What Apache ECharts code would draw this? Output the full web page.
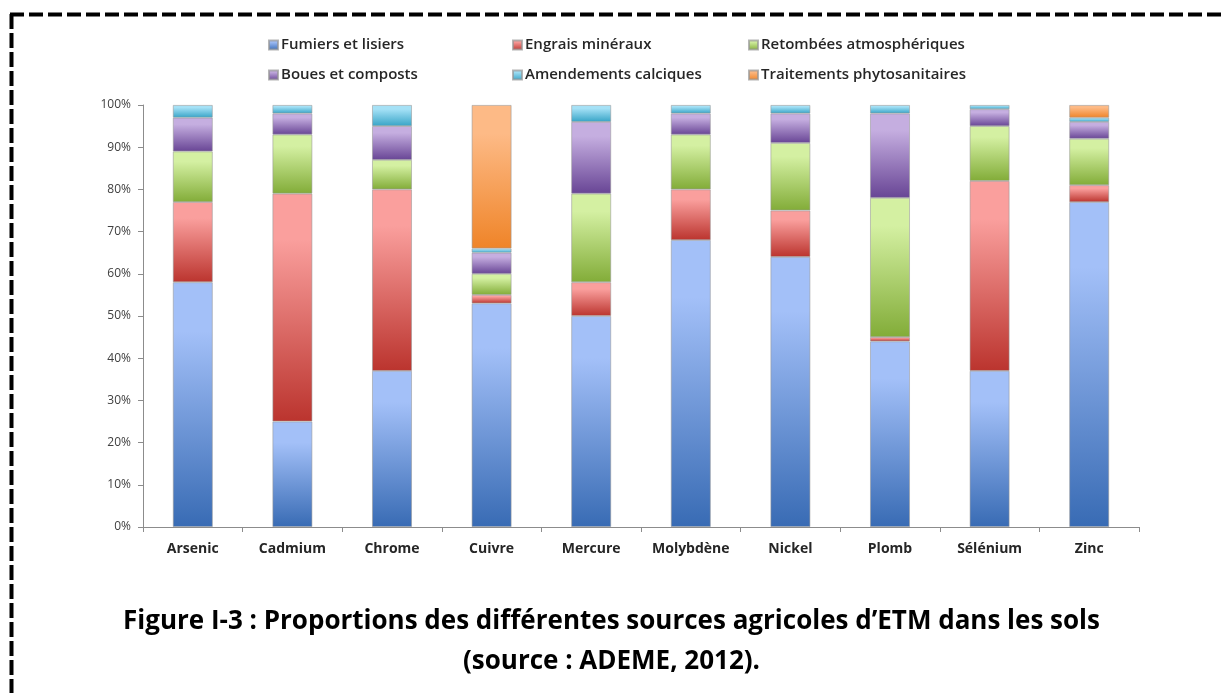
<!DOCTYPE html>
<html>
<head>
<meta charset="utf-8">
<script src="https://cdn.jsdelivr.net/npm/echarts@6/dist/echarts.min.js"></script>
<style>
  html, body { margin: 0; padding: 0; background: #fff; }
  #chart { width: 1223px; height: 693px; }
</style>
</head>
<body>
<div id="chart"></div>
<script>
// Metals (trace elements) on the x axis
const categories = ['Arsenic', 'Cadmium', 'Chrome', 'Cuivre', 'Mercure', 'Molybdène', 'Nickel', 'Plomb', 'Sélénium', 'Zinc'];

// Share (%) of each agricultural source, per metal
const fumiers     = [58, 25, 37, 53, 50, 68, 64, 44, 37, 77];
const engrais     = [19, 54, 43,  2,  8, 12, 11,  1, 45,  4];
const retombees   = [12, 14,  7,  5, 21, 13, 16, 33, 13, 11];
const boues       = [ 8,  5,  8,  5, 17,  5,  7, 20,  4,  4];
const amendements = [ 3,  2,  5,  1,  4,  2,  2,  2,  1,  1];
const traitements = [ 0,  0,  0, 34,  0,  0,  0,  0,  0,  3];

const seriesNames = ['Fumiers et lisiers', 'Engrais minéraux', 'Retombées atmosphériques',
                     'Boues et composts', 'Amendements calciques', 'Traitements phytosanitaires'];
const seriesValues = [fumiers, engrais, retombees, boues, amendements, traitements];

// [light top, dark bottom] for each source
const palette = [
  ['#a3c0f8', '#386bb4'],
  ['#fa9f9d', '#bb342e'],
  ['#d4f0a2', '#82ac38'],
  ['#c5aee0', '#684595'],
  ['#a5e1f6', '#37a4c7'],
  ['#fdba86', '#ef8428']
];

const yTicks = [0, 10, 20, 30, 40, 50, 60, 70, 80, 90, 100];

const FONT = '"Open Sans"';

function grad(c) {
  return new echarts.graphic.LinearGradient(0, 0, 0, 1, [
    { offset: 0, color: c[0] },
    { offset: 0.2, color: c[0] },
    { offset: 1, color: c[1] }
  ]);
}

const series = seriesNames.map((name, i) => ({
  name: name,
  type: 'bar',
  stack: 'total',
  barWidth: '40%',
  data: seriesValues[i].map(v => (v === 0 ? '-' : v)),
  itemStyle: {
    color: grad(palette[i]),
    borderColor: 'rgba(150,150,150,0.7)',
    borderWidth: 0.8
  },
  emphasis: { disabled: true }
}));

function legendCol(left, names) {
  return {
    orient: 'vertical',
    left: left,
    top: 31,
    itemWidth: 9,
    itemHeight: 9,
    itemGap: 12,
    icon: 'rect',
    data: names,
    selectedMode: false,
    textStyle: { fontFamily: FONT, fontWeight: 600, fontSize: 15, color: '#262626', padding: [0, 0, 0, -2], lineHeight: 18 }
  };
}

const chart = echarts.init(document.getElementById('chart'), null, { renderer: 'canvas' });

chart.setOption({
  backgroundColor: '#ffffff',
  animation: false,
  title: [
    {
      text: 'Figure I-3 : Proportions des différentes sources agricoles d\u2019ETM dans les sols',
      left: 'center',
      top: 604,
      textStyle: { fontFamily: FONT, fontWeight: 'bold', fontSize: 26, color: '#000' }
    },
    {
      text: '(source : ADEME, 2012).',
      left: 'center',
      top: 644,
      textStyle: { fontFamily: FONT, fontWeight: 'bold', fontSize: 26, color: '#000' }
    }
  ],
  legend: [
    legendCol(263, [seriesNames[0], seriesNames[3]]),
    legendCol(507, [seriesNames[1], seriesNames[4]]),
    legendCol(743, [seriesNames[2], seriesNames[5]])
  ],
  grid: { left: 143, right: 84, top: 105, bottom: 166, containLabel: false },
  xAxis: {
    type: 'category',
    data: categories,
    axisLine: { lineStyle: { color: '#8c8c8c', width: 1 } },
    axisTick: { show: true, length: 5, lineStyle: { color: '#8c8c8c' } },
    axisLabel: { interval: 0, fontFamily: FONT, fontWeight: 'bold', fontSize: 14, color: '#262626', margin: 15 }
  },
  yAxis: {
    type: 'value',
    min: yTicks[0],
    max: yTicks[yTicks.length - 1],
    interval: yTicks[1] - yTicks[0],
    axisLine: { show: true, lineStyle: { color: '#8c8c8c', width: 1 } },
    axisTick: { show: true, length: 5, lineStyle: { color: '#8c8c8c' } },
    splitLine: { show: false },
    axisLabel: { fontFamily: FONT, fontSize: 12, color: '#404040', margin: 12, formatter: '{value}%' }
  },
  graphic: [
    // dashed frame around the figure
    {
      type: 'line',
      shape: { x1: 10, y1: 14.5, x2: 1223, y2: 14.5 },
      style: { stroke: '#000', lineWidth: 4, lineDash: [14, 5] },
      silent: true
    },
    {
      type: 'line',
      shape: { x1: 11.5, y1: 14, x2: 11.5, y2: 693 },
      style: { stroke: '#000', lineWidth: 4, lineDash: [15, 4] },
      silent: true
    }
  ],
  series: series
});
</script>
</body>
</html>
